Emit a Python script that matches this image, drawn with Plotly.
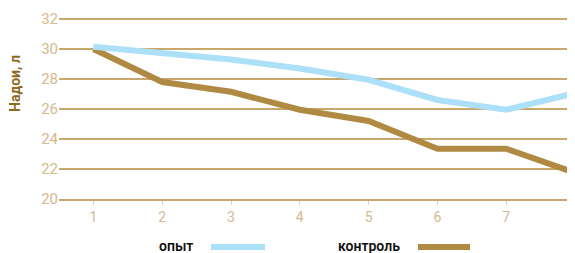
import plotly.graph_objects as go

x_vals = [1, 2, 3, 4, 5, 6, 7, 8]
opyt = [30.15, 29.7, 29.3, 28.7, 27.95, 26.6, 25.95, 27.05]
kontrol = [30.0, 27.8, 27.15, 25.95, 25.2, 23.35, 23.35, 21.75]
y_ticks = [20, 22, 24, 26, 28, 30, 32]
series_names = ["опыт", "контроль"]

blue = "#abe0f8"
brown = "#b08a42"
grid = "#c9a86c"
tickc = "#d5b98c"

OFF = 8  # page body margin
W, H = 575 - OFF, 253 - OFF
YTOP = 32.2
PH = 180 * (YTOP - 20) / 12
L = 59 - OFF
BOT = 199 - OFF  # bottom of plot in figure px
T = BOT - PH
PW = W - L

def px(xp):  # page pixel -> paper
    return (xp - OFF - L) / PW
def py(yp):
    return 1 - (yp - OFF - T) / PH

fig = go.Figure()
fig.add_trace(go.Scatter(x=x_vals, y=kontrol, mode="lines", name=series_names[1],
                         line=dict(color=brown, width=6), showlegend=False))
fig.add_trace(go.Scatter(x=x_vals, y=opyt, mode="lines", name=series_names[0],
                         line=dict(color=blue, width=6), showlegend=False))

fig.update_layout(
    width=W, height=H,
    margin=dict(l=L, r=0, t=T, b=H - BOT),
    paper_bgcolor="white", plot_bgcolor="white",
    xaxis=dict(range=[0.5, 8.0], tickvals=x_vals, showgrid=False, zeroline=False,
               showline=True, linecolor=grid, linewidth=2, automargin=False,
               ticklabeloverflow="allow",
               ticks="outside", ticklen=4, tickcolor="#f2c6ba", tickwidth=1,
               tickfont=dict(family="Roboto", size=14, color=tickc)),
    yaxis=dict(range=[20, YTOP], tickvals=y_ticks, showgrid=True, gridcolor=grid, gridwidth=2,
               zeroline=False, showline=False, ticks="", automargin=False,
               tickfont=dict(family="Roboto", size=15, color=tickc)),
    showlegend=False,
)

fig.add_annotation(x=px(15), y=py(84), xref="paper", yref="paper", text="<b>Надои, л</b>",
                   textangle=-90, showarrow=False, xanchor="center", yanchor="middle",
                   font=dict(family="Roboto", size=14, color="#8f6a1c"))
fig.add_annotation(x=px(176), y=py(246), xref="paper", yref="paper", text=series_names[0],
                   showarrow=False, xanchor="center", yanchor="middle",
                   font=dict(family="Roboto", size=14, color="#111", weight=600))
fig.add_annotation(x=px(369), y=py(246), xref="paper", yref="paper", text=series_names[1],
                   showarrow=False, xanchor="center", yanchor="middle",
                   font=dict(family="Roboto", size=14, color="#111", weight=600))
fig.add_shape(type="line", xref="paper", yref="paper", x0=px(211), x1=px(265), y0=py(247), y1=py(247),
              line=dict(color=blue, width=6))
fig.add_shape(type="line", xref="paper", yref="paper", x0=px(418), x1=px(470), y0=py(247), y1=py(247),
              line=dict(color=brown, width=6))

fig.write_html("out.html")
